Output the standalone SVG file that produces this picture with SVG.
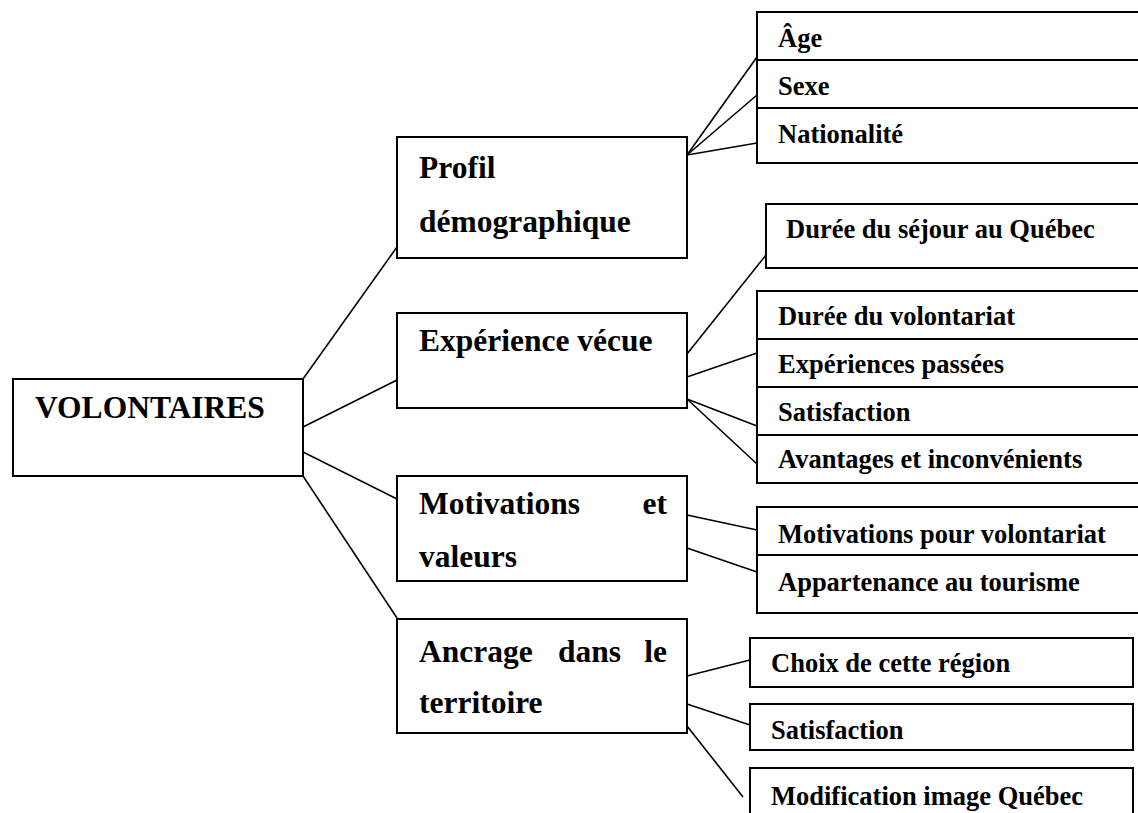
<svg xmlns="http://www.w3.org/2000/svg" width="1138" height="813" viewBox="0 0 1138 813">
  <style>
    .box { fill: #ffffff; stroke: #000000; stroke-width: 2; }
    .div { stroke: #000000; stroke-width: 2; }
    .link { stroke: #000000; stroke-width: 1.6; fill: none; }
    .big { font-family: "Liberation Serif", "Times New Roman", serif; font-weight: bold; font-size: 31.5px; fill: #000000; }
    .small { font-family: "Liberation Serif", "Times New Roman", serif; font-weight: bold; font-size: 26.5px; fill: #000000; }
  </style>
  <rect width="1138" height="813" fill="#ffffff"/>

  <!-- connectors -->
  <g id="connectors">
    <!-- root to categories -->
    <line class="link" x1="303" y1="379" x2="397" y2="247"/>
    <line class="link" x1="303" y1="427" x2="397" y2="380"/>
    <line class="link" x1="303" y1="452" x2="397" y2="499"/>
    <line class="link" x1="303" y1="476" x2="397" y2="618"/>
    <!-- profil -->
    <line class="link" x1="687" y1="155" x2="757" y2="57"/>
    <line class="link" x1="687" y1="155" x2="757" y2="95"/>
    <line class="link" x1="687" y1="155" x2="757" y2="143"/>
    <!-- experience -->
    <line class="link" x1="687" y1="354" x2="766" y2="255"/>
    <line class="link" x1="687" y1="377" x2="757" y2="353"/>
    <line class="link" x1="687" y1="399" x2="757" y2="426"/>
    <line class="link" x1="687" y1="399" x2="757" y2="464"/>
    <!-- motivations -->
    <line class="link" x1="687" y1="515" x2="757" y2="530"/>
    <line class="link" x1="687" y1="548" x2="757" y2="572"/>
    <!-- ancrage -->
    <line class="link" x1="687" y1="676" x2="750" y2="660"/>
    <line class="link" x1="687" y1="704" x2="750" y2="725"/>
    <line class="link" x1="687" y1="726" x2="743" y2="797"/>
  </g>

  <!-- root -->
  <g id="volontaires">
    <rect class="box" x="13" y="379" width="290" height="97"/>
    <text class="big" x="35" y="418">VOLONTAIRES</text>
  </g>

  <!-- categories -->
  <g id="profil">
    <rect class="box" x="397" y="137" width="290" height="121"/>
    <text class="big" x="419" y="178">Profil</text>
    <text class="big" x="419" y="232">démographique</text>
  </g>
  <g id="experience">
    <rect class="box" x="397" y="313" width="290" height="95"/>
    <text class="big" x="419" y="351">Expérience vécue</text>
  </g>
  <g id="motivations">
    <rect class="box" x="397" y="476" width="290" height="105"/>
    <text class="big" x="419" y="514">Motivations</text>
    <text class="big" x="667" y="514" text-anchor="end">et</text>
    <text class="big" x="419" y="567">valeurs</text>
  </g>
  <g id="ancrage">
    <rect class="box" x="397" y="619" width="290" height="114"/>
    <text class="big" x="419" y="662">Ancrage</text>
    <text class="big" x="558" y="662">dans</text>
    <text class="big" x="667" y="662" text-anchor="end">le</text>
    <text class="big" x="419" y="713">territoire</text>
  </g>

  <!-- profil details -->
  <g id="profil-details">
    <rect class="box" x="757" y="12" width="400" height="151"/>
    <line class="div" x1="757" y1="60" x2="1140" y2="60"/>
    <line class="div" x1="757" y1="108" x2="1140" y2="108"/>
    <text class="small" x="778" y="47">Âge</text>
    <text class="small" x="778" y="95">Sexe</text>
    <text class="small" x="778" y="143">Nationalité</text>
  </g>

  <!-- experience details -->
  <g id="sejour">
    <rect class="box" x="766" y="204" width="400" height="64"/>
    <text class="small" x="786" y="238">Durée du séjour au Québec</text>
  </g>
  <g id="experience-details">
    <rect class="box" x="757" y="291" width="400" height="192"/>
    <line class="div" x1="757" y1="339" x2="1140" y2="339"/>
    <line class="div" x1="757" y1="387" x2="1140" y2="387"/>
    <line class="div" x1="757" y1="435" x2="1140" y2="435"/>
    <text class="small" x="778" y="325">Durée du volontariat</text>
    <text class="small" x="778" y="373">Expériences passées</text>
    <text class="small" x="778" y="421">Satisfaction</text>
    <text class="small" x="778" y="468">Avantages et inconvénients</text>
  </g>

  <!-- motivations details -->
  <g id="motivations-details">
    <rect class="box" x="757" y="507" width="400" height="106"/>
    <line class="div" x1="757" y1="555" x2="1140" y2="555"/>
    <text class="small" x="778" y="543">Motivations pour volontariat</text>
    <text class="small" x="778" y="591">Appartenance au tourisme</text>
  </g>

  <!-- ancrage details -->
  <g id="choix">
    <rect class="box" x="750" y="638" width="383" height="49"/>
    <text class="small" x="771" y="672">Choix de cette région</text>
  </g>
  <g id="satisfaction">
    <rect class="box" x="750" y="704" width="383" height="46"/>
    <text class="small" x="771" y="739">Satisfaction</text>
  </g>
  <g id="modification">
    <rect class="box" x="750" y="768" width="383" height="60"/>
    <text class="small" x="771" y="805">Modification image Québec</text>
  </g>
</svg>
